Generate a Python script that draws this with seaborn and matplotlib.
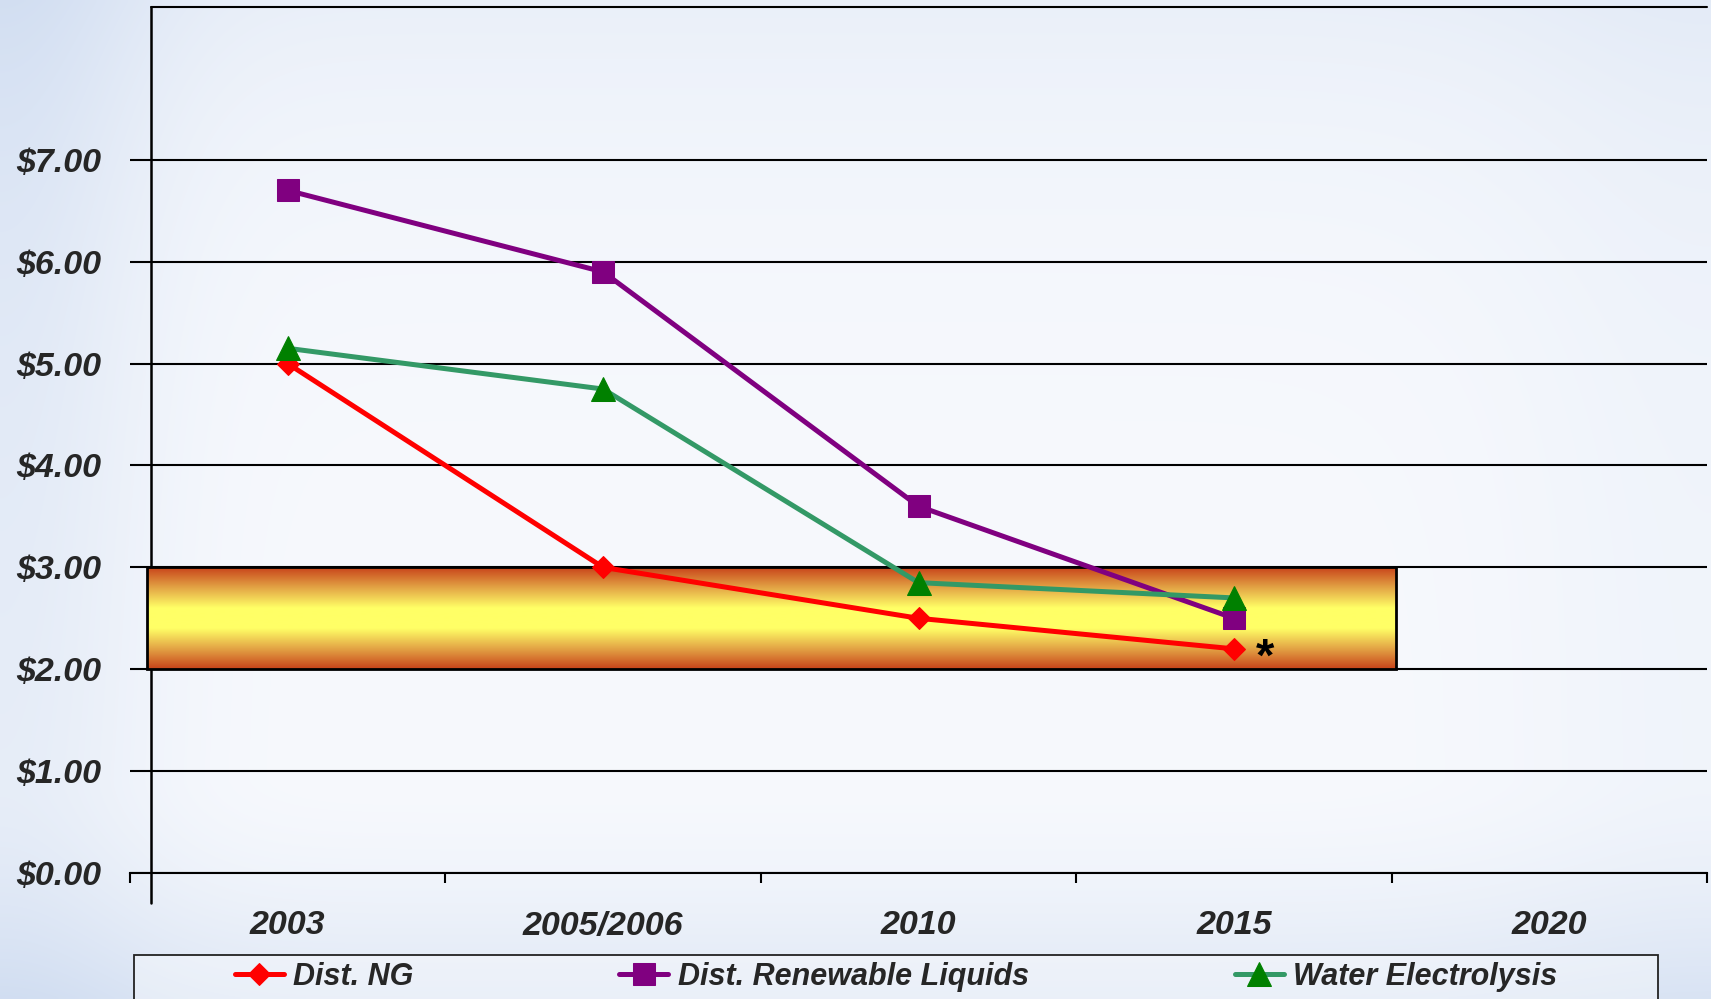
import numpy as np
import pandas as pd
import matplotlib
matplotlib.use("Agg")
import matplotlib.pyplot as plt
import seaborn as sns
from matplotlib.colors import LinearSegmentedColormap
from matplotlib.patches import Rectangle

# ---- data -------------------------------------------------------------
years = ["2003", "2005/2006", "2010", "2015", "2020"]
dist_ng = [5.00, 3.00, 2.50, 2.20]
dist_renewable_liquids = [6.70, 5.90, 3.60, 2.50]
water_electrolysis = [5.15, 4.75, 2.85, 2.70]
series_names = ["Dist. NG", "Dist. Renewable Liquids", "Water Electrolysis"]
y_ticks = [0, 1, 2, 3, 4, 5, 6, 7]
y_tick_labels = [f"${v:.2f}" for v in y_ticks]
target_low, target_high = 2.00, 3.00

rows = []
for name, vals in zip(series_names, [dist_ng, dist_renewable_liquids, water_electrolysis]):
    for i, v in enumerate(vals):
        rows.append({"series": name, "pos": i, "year": years[i], "cost": v})
df = pd.DataFrame(rows)

# ---- styling ----------------------------------------------------------
sns.set_style("white")
plt.rcParams["font.family"] = ["Liberation Sans", "DejaVu Sans"]
plt.rcParams["font.weight"] = "bold"
plt.rcParams["font.style"] = "italic"

W, H = 1711, 999
fig = plt.figure(figsize=(W / 100, H / 100), dpi=100)

# soft sky / water backdrop
bg = fig.add_axes([0, 0, 1, 1], zorder=-10)
yy, xx = np.mgrid[0:1:300j, 0:1:500j]
tint = (0.55 * np.exp(-(xx / 0.09) ** 2) * (1 - 0.4 * yy)
        + 0.30 * (1 - yy) ** 5
        + 0.55 * np.clip((yy - 0.78) / 0.22, 0, 1) ** 1.6
        + 0.15 * np.exp(-((xx - 1) / 0.12) ** 2))
tint = np.clip(tint, 0, 1)[..., None]
base = np.array([0.968, 0.976, 0.992])
blue = np.array([0.80, 0.855, 0.94])
bg.imshow(base * (1 - tint) + blue * tint, aspect="auto", extent=(0, 1, 0, 1),
          origin="upper", interpolation="bilinear")
bg.set_axis_off()

ax = fig.add_axes([130 / W, 1 - 873 / H, 1577 / W, 866 / H])
ax.patch.set_alpha(0)
ax.set_xlim(-0.5, len(years) - 0.5)
ax.set_ylim(0, 8.5)

# target cost band
band_x0, band_x1 = -0.446, 3.514
band_cmap = LinearSegmentedColormap.from_list(
    "band", ["#C8431A", "#E3A445", "#FFFF66", "#FFFF66", "#E3A445", "#C8431A"])
ax.imshow(np.linspace(0, 1, 256)[:, None], cmap=band_cmap, aspect="auto",
          extent=(band_x0, band_x1, target_low, target_high), zorder=2,
          interpolation="bilinear")
ax.add_patch(Rectangle((band_x0, target_low), band_x1 - band_x0,
                       target_high - target_low, fill=False,
                       edgecolor="black", lw=2.0, zorder=2.5))

# gridlines
for v in y_ticks:
    ax.axhline(v, color="black", lw=1.5, zorder=1)
ax.plot([-0.435, len(years) - 0.5], [8.5, 8.5], color="black", lw=1.5,
        clip_on=False, zorder=1)
ax.plot([-0.435, -0.435], [-0.295, 8.5], color="black", lw=1.8,
        clip_on=False, zorder=1)

# series
styles = {
    "Dist. NG": dict(color="#FF0000", marker="D", markersize=11,
                     markerfacecolor="#FF0000", markeredgecolor="#FF0000"),
    "Dist. Renewable Liquids": dict(color="#800080", marker="s", markersize=16,
                                    markerfacecolor="#800080", markeredgecolor="#800080"),
    "Water Electrolysis": dict(color="#339966", marker="^", markersize=17,
                               markerfacecolor="#008000", markeredgecolor="#008000"),
}
for name in series_names:
    sub = df[df["series"] == name]
    sns.lineplot(data=sub, x="pos", y="cost", ax=ax, lw=3.6, label=name,
                 zorder=4, legend=False, **styles[name])

ax.text(3.1, 2.1, "*", fontsize=34, fontweight="bold", fontstyle="normal",
        ha="center", va="center", color="black", zorder=5)

# axes & ticks
for s in ["left", "right", "top"]:
    ax.spines[s].set_visible(False)
ax.spines["bottom"].set_color("black")
ax.spines["bottom"].set_linewidth(1.5)
ax.set_yticks(y_ticks)
ax.set_yticklabels(y_tick_labels)
ax.tick_params(axis="y", length=0, pad=21, labelsize=24.5)
ax.set_xticks(np.arange(-0.5, len(years), 1.0))
ax.set_xticklabels([])
ax.tick_params(axis="x", which="major", direction="out", length=7, width=1.5,
               color="black", bottom=True)
ax.set_xticks(np.arange(len(years)), minor=True)
ax.set_xticklabels(years, minor=True)
ax.tick_params(axis="x", which="minor", length=0, pad=27, labelsize=24.5)
ax.set_xlabel("")
ax.set_ylabel("")
for lab in ax.get_xticklabels(minor=True) + ax.get_yticklabels():
    lab.set_fontweight("bold")
    lab.set_fontstyle("italic")

# legend
fig.patches.append(Rectangle((134 / W, -0.05), (1658 - 134) / W, 0.05 + 1 - 955 / H,
                             transform=fig.transFigure, facecolor="white",
                             alpha=0.35, edgecolor="none", zorder=0))
fig.patches.append(Rectangle((134 / W, -0.05), (1658 - 134) / W, 0.05 + 1 - 955 / H,
                             transform=fig.transFigure, fill=False,
                             edgecolor="#222222", lw=1.3, zorder=1))
handles, labels = ax.get_legend_handles_labels()
leg = fig.legend(handles, labels, loc="center", ncol=3, mode="expand",
                 bbox_to_anchor=(235 / W, 1 - 977 / H - 0.01, (1557 - 235) / W, 0.02),
                 frameon=False, borderpad=0, borderaxespad=0,
                 handlelength=1.6, handletextpad=0.3,
                 prop=dict(size=22, weight="bold", style="italic"))

fig.savefig("out.png", dpi=100)
